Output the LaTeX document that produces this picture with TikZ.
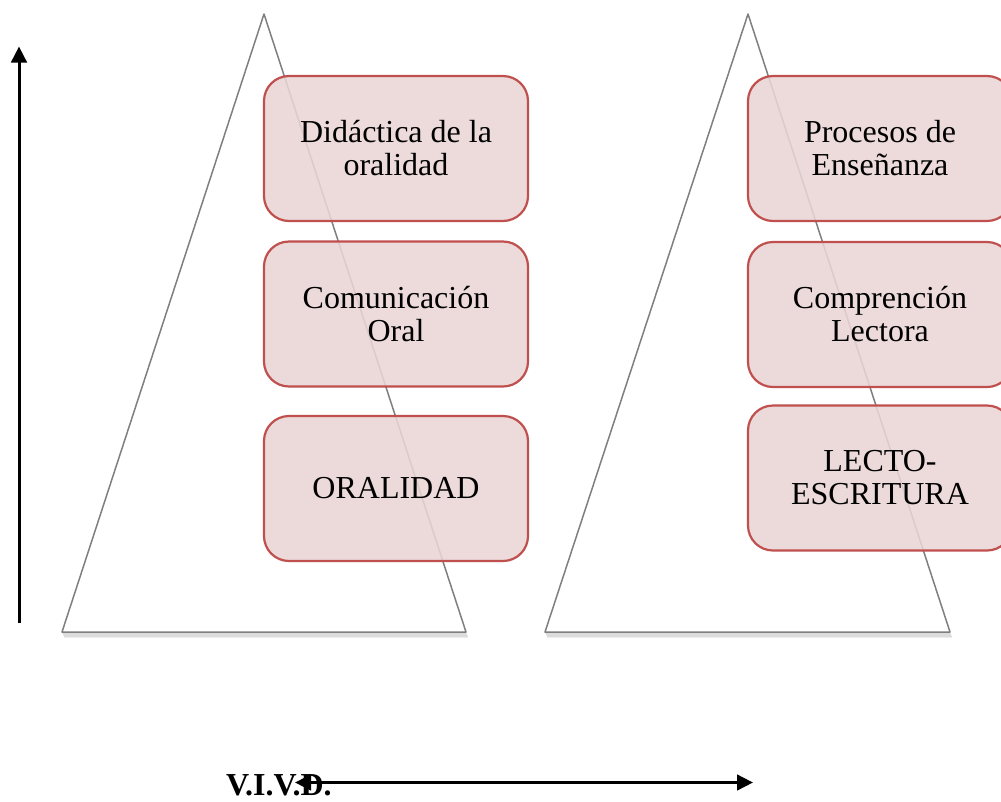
\documentclass[tikz,border=0pt]{standalone}
\usepackage{fontspec}
\setmainfont{Liberation Serif}
\usetikzlibrary{arrows.meta}
\definecolor{boxfill}{HTML}{EAD5D6}
\definecolor{boxline}{HTML}{C0504D}
\definecolor{trline}{HTML}{7F7F7F}
\begin{document}
\begin{tikzpicture}[x=1pt,y=-1pt,
  stagebox/.style={draw=boxline,line width=2.2pt,fill=boxfill,fill opacity=0.88,text opacity=1,
    rounded corners=25pt,minimum width=264pt,minimum height=145pt,align=center,
    inner sep=0pt,font=\fontsize{32}{33}\selectfont},
  tri/.style={draw=trline,line width=1.5pt,fill=white,line join=round},
  shad/.style={draw=black,line width=1.5pt,draw opacity=0.07},
  axis/.style={line width=3pt,-{Triangle[length=16pt,width=15.5pt]}},
  daxis/.style={line width=3pt,{Triangle[length=16pt,width=15.5pt]}-{Triangle[length=16pt,width=15.5pt]}}]
\useasboundingbox (0,0) rectangle (1001,801);
\clip (0,0) rectangle (1001,801);
% shadows of triangles
\foreach \d in {1,2,3,4,5}{
  \draw[shad] (62+\d*0.4,632+\d) -- (466+\d*0.4,632+\d);
  \draw[shad] (545+\d*0.4,632+\d) -- (950+\d*0.4,632+\d);
}
% triangles
\draw[tri] (264,14) -- (466,632) -- (62,632) -- cycle;
\draw[tri] (748,14) -- (950,632) -- (545,632) -- cycle;
% boxes
\node[stagebox] (a1) at (396,148.5) {Didáctica de la\\oralidad};
\node[stagebox] (a2) at (396,314) {Comunicación\\Oral};
\node[stagebox] (a3) at (396,488.5) {ORALIDAD};
\node[stagebox] (b1) at (880,148.5) {Procesos de\\Enseñanza};
\node[stagebox] (b2) at (880,314.5) {Comprención\\Lectora};
\node[stagebox] (b3) at (880,478) {LECTO-\\ESCRITURA};
% axes
\coordinate (vlow) at (19,623);
\coordinate (vtop) at (19,46.5);
\draw[axis] (vlow) -- (vtop);
\node[font=\fontsize{32}{33}\selectfont\bfseries,anchor=base west,inner sep=0pt] (lbl) at (226,795) {V.I.V.D.};
\coordinate (hl) at (295,782.5);
\coordinate (hr) at (753,782.5);
\draw[daxis] (hl) -- (hr);
\end{tikzpicture}
\end{document}
